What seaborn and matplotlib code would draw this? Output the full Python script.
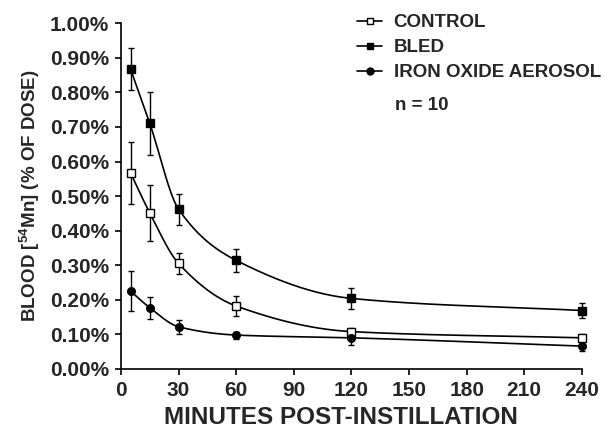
import numpy as np
import pandas as pd
import seaborn as sns
import matplotlib
matplotlib.use("Agg")
import matplotlib.pyplot as plt
from matplotlib.lines import Line2D
from matplotlib.ticker import FuncFormatter

sns.set_style("ticks")
plt.rcParams['font.family'] = ['Liberation Sans', 'DejaVu Sans']
plt.rcParams['font.weight'] = 'bold'
plt.rcParams['mathtext.fontset'] = 'custom'
plt.rcParams['mathtext.rm'] = 'Liberation Sans:bold'
plt.rcParams['mathtext.it'] = 'Liberation Sans:bold'
plt.rcParams['mathtext.bf'] = 'Liberation Sans:bold'

# values (% of dose)
minutes = [5, 15, 30, 60, 120, 240]
control = [0.567, 0.451, 0.305, 0.182, 0.108, 0.090]
control_err = [0.090, 0.082, 0.031, 0.028, 0.011, 0.010]
bled = [0.867, 0.710, 0.462, 0.314, 0.204, 0.169]
bled_err = [0.060, 0.090, 0.045, 0.033, 0.030, 0.023]
iron = [0.225, 0.177, 0.122, 0.098, 0.090, 0.066]
iron_err = [0.057, 0.032, 0.021, 0.010, 0.022, 0.015]

series_names = ['CONTROL', 'BLED', 'IRON OXIDE AEROSOL']
x_ticks = [0, 30, 60, 90, 120, 150, 180, 210, 240]
y_ticks = [0.0, 0.1, 0.2, 0.3, 0.4, 0.5, 0.6, 0.7, 0.8, 0.9, 1.0]


def smooth(x, y, n=300):
    # monotone cubic (pchip) so the drawn line bends like the fitted curves
    x = np.asarray(x, float)
    y = np.asarray(y, float)
    h = np.diff(x)
    d = np.diff(y) / h
    m = np.zeros_like(y)
    for k in range(1, len(x) - 1):
        if d[k - 1] * d[k] > 0:
            w1 = 2 * h[k] + h[k - 1]
            w2 = h[k] + 2 * h[k - 1]
            m[k] = (w1 + w2) / (w1 / d[k - 1] + w2 / d[k])
    m[0] = d[0]
    m[-1] = d[-1]
    xs = np.linspace(x[0], x[-1], n)
    idx = np.clip(np.searchsorted(x, xs) - 1, 0, len(x) - 2)
    t = (xs - x[idx]) / h[idx]
    h00 = 2 * t**3 - 3 * t**2 + 1
    h10 = t**3 - 2 * t**2 + t
    h01 = -2 * t**3 + 3 * t**2
    h11 = t**3 - t**2
    ys = (h00 * y[idx] + h10 * h[idx] * m[idx]
          + h01 * y[idx + 1] + h11 * h[idx] * m[idx + 1])
    return xs, ys


fig, ax = plt.subplots(figsize=(6.08, 4.30), dpi=100)
fig.subplots_adjust(left=0.199, right=0.957, bottom=0.142, top=0.946)

styles = [('s', 'white'), ('s', 'black'), ('o', 'black')]
handles = []
for name, vals, errs, (mk, fc) in zip(series_names, [control, bled, iron],
                                      [control_err, bled_err, iron_err], styles):
    xs, ys = smooth(minutes, vals)
    curve = pd.DataFrame({'x': xs, 'y': ys})
    sns.lineplot(data=curve, x='x', y='y', ax=ax, color='black', lw=1.2,
                 legend=False)
    ax.errorbar(minutes, vals, yerr=errs, fmt=mk, mfc=fc, mec='black',
                ms=5.5, mew=1.0, ecolor='black', elinewidth=1.0, capsize=2.5,
                capthick=1.0, clip_on=False, zorder=3)
    handles.append(Line2D([], [], color='black', lw=1.2, marker=mk, mfc=fc,
                          mec='black', ms=5, mew=1.0))

ax.set_xlim(0, 240)
ax.set_ylim(0, 1.0)
ax.set_xticks(x_ticks)
ax.set_yticks(y_ticks)
ax.yaxis.set_major_formatter(FuncFormatter(lambda v, p: f'{v:.2f}%'))
ax.tick_params(axis='both', labelsize=15, length=4.5, width=1.2,
               direction='out', pad=4, color='black')
for lab in ax.get_xticklabels() + ax.get_yticklabels():
    lab.set_fontweight('bold')
sns.despine(ax=ax)
for s in ('left', 'bottom'):
    ax.spines[s].set_linewidth(1.2)
    ax.spines[s].set_color('black')

ax.set_xlabel('MINUTES POST-INSTILLATION', fontsize=17.5, fontweight='bold')
ax.xaxis.set_label_coords(0.477, -0.108)
ax.set_ylabel(r'BLOOD [$^{54}$Mn] (% OF DOSE)', fontsize=13.5,
              fontweight='bold', labelpad=6)

leg = fig.legend(handles, series_names, loc='upper left',
                 bbox_to_anchor=(357 / 608, 1 - 14 / 430), frameon=False,
                 fontsize=13.5, handlelength=1.35, handletextpad=0.6,
                 labelspacing=0.42, borderpad=0, borderaxespad=0)
for t in leg.get_texts():
    t.set_fontweight('bold')
fig.text(395 / 608, 1 - 105 / 430, 'n = 10', fontsize=13.5, fontweight='bold',
         va='center', ha='left')

fig.savefig('out.png', dpi=100)
